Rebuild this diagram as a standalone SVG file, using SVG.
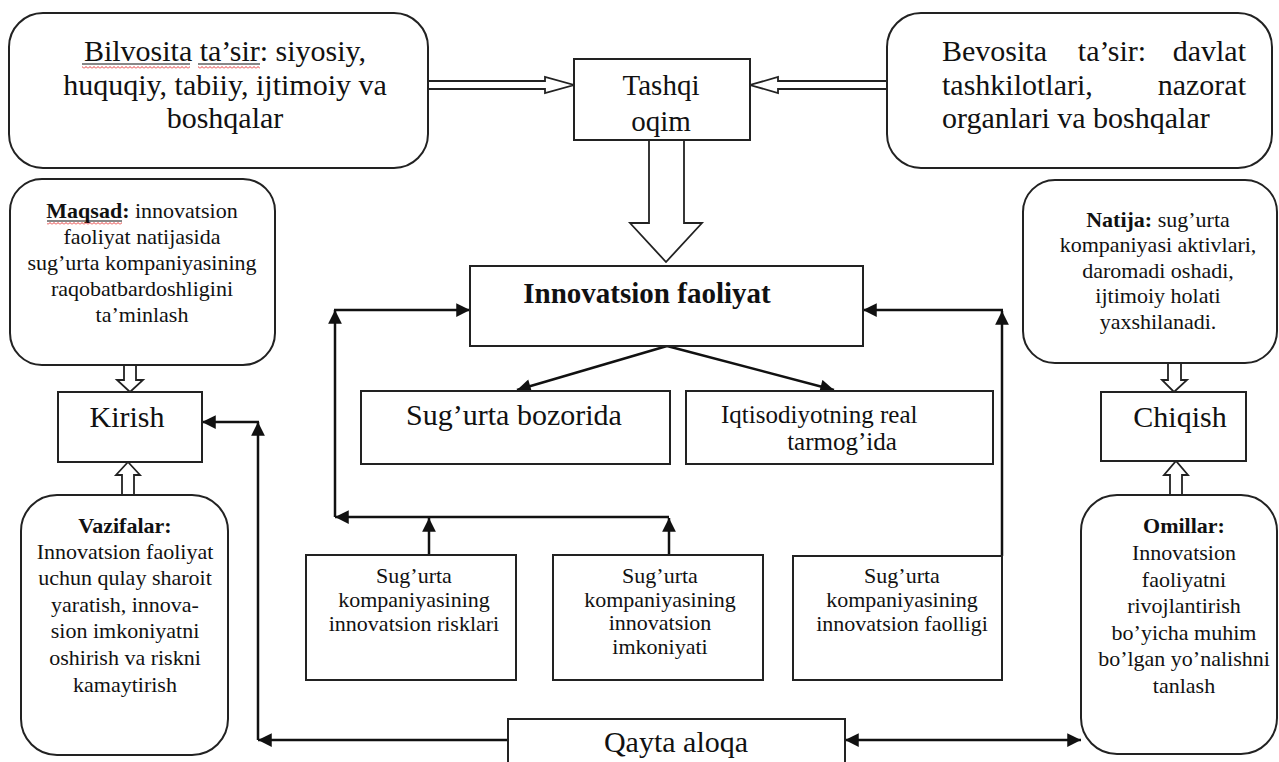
<svg xmlns="http://www.w3.org/2000/svg" width="1279" height="762" viewBox="0 0 1279 762">
<style>
  .box{fill:#fff;stroke:#222;stroke-width:2}
  .rbox{fill:#fff;stroke:#222;stroke-width:2}
  .t{font-family:"Liberation Serif","Times New Roman",serif;fill:#111}
  .big{font-size:30px}
  .sm{font-size:22px}
  .mid{text-anchor:middle}
  .b{font-weight:bold}
  .ln{fill:none;stroke:#111;stroke-width:2.5}
  .hol{fill:#fff;stroke:#222;stroke-width:1.8;stroke-linejoin:miter}
  .ul{stroke:#111;stroke-width:1.2}
</style>
<defs>
  <marker id="ah" viewBox="0 0 10 10" refX="10" refY="5" markerWidth="6" markerHeight="5.5" markerUnits="strokeWidth" orient="auto-start-reverse">
    <path d="M0 0 L10 5 L0 10 Z" fill="#111"/>
  </marker>
  <pattern id="wavy" patternUnits="userSpaceOnUse" width="4" height="3">
    <path d="M0 2.5 L2 0.5 L4 2.5" fill="none" stroke="#e02020" stroke-width="0.9"/>
  </pattern>
</defs>
<rect width="1279" height="762" fill="#fff"/>

<g id="connectors">
  <!-- hollow arrows -->
  <polygon class="hol" points="428,81 545,81 545,77 574,85 545,93 545,89 428,89"/>
  <polygon class="hol" points="887,81 778,81 778,77 750,85 778,93 778,89 887,89"/>
  <polygon class="hol" points="649,140 649,223 630,223 666,262 702,223 684,223 684,140"/>
  <polygon class="hol" points="124,365 124,380 117,380 130,392 143,380 136,380 136,365"/>
  <polygon class="hol" points="122,495 122,475 116,475 128,462 140,475 134,475 134,495"/>
  <polygon class="hol" points="1168,363 1168,380 1162,380 1174,392 1187,380 1181,380 1181,363"/>
  <polygon class="hol" points="1170,495 1170,475 1164,475 1176,461 1188,475 1182,475 1182,495"/>
  <!-- solid arrows -->
  <line class="ln" x1="667" y1="346" x2="517" y2="390" marker-end="url(#ah)"/>
  <line class="ln" x1="667" y1="346" x2="834" y2="390" marker-end="url(#ah)"/>
  <line class="ln" x1="429" y1="555" x2="429" y2="518" marker-end="url(#ah)"/>
  <line class="ln" x1="669" y1="555" x2="669" y2="518" marker-end="url(#ah)"/>
  <line class="ln" x1="669" y1="517" x2="335" y2="517" marker-end="url(#ah)"/>
  <line class="ln" x1="335" y1="517" x2="335" y2="310" marker-end="url(#ah)"/>
  <line class="ln" x1="334" y1="310" x2="470" y2="310" marker-end="url(#ah)"/>
  <line class="ln" x1="1002" y1="556" x2="1002" y2="311" marker-end="url(#ah)"/>
  <line class="ln" x1="1003" y1="310" x2="863" y2="310" marker-end="url(#ah)"/>
  <line class="ln" x1="508" y1="740" x2="258" y2="740" marker-end="url(#ah)"/>
  <line class="ln" x1="258" y1="740" x2="258" y2="422" marker-end="url(#ah)"/>
  <line class="ln" x1="259" y1="422" x2="202" y2="422" marker-end="url(#ah)"/>
  <line class="ln" x1="845" y1="740" x2="1081" y2="740" marker-start="url(#ah)" marker-end="url(#ah)"/>
</g>

<g id="bilvosita">
  <rect class="rbox" x="9" y="13" width="419" height="155" rx="34"/>
  <text class="t big mid" x="225" y="61">Bilvosita ta’sir: siyosiy,</text>
  <text class="t big mid" x="225" y="95">huquqiy, tabiiy, ijtimoiy va</text>
  <text class="t big mid" x="225" y="128">boshqalar</text>
  <line class="ul" x1="82" y1="64" x2="190" y2="64"/>
  <line class="ul" x1="198" y1="64" x2="260" y2="64"/>
  <rect x="82" y="66" width="108" height="3" fill="url(#wavy)"/>
  <rect x="198" y="66" width="62" height="3" fill="url(#wavy)"/>
</g>

<g id="tashqi">
  <rect class="box" x="574" y="59" width="176" height="81"/>
  <text class="t mid" style="font-size:29px" x="661" y="95">Tashqi</text>
  <text class="t mid" style="font-size:29px" x="661" y="131">oqim</text>
</g>

<g id="bevosita">
  <rect class="rbox" x="887" y="13" width="385" height="155" rx="34"/>
  <text class="t big" x="942" y="61">Bevosita</text>
  <text class="t big mid" x="1112" y="61">ta’sir:</text>
  <text class="t big" x="1246" y="61" text-anchor="end">davlat</text>
  <text class="t big" x="942" y="95">tashkilotlari,</text>
  <text class="t big" x="1246" y="95" text-anchor="end">nazorat</text>
  <text class="t big" x="942" y="128">organlari va boshqalar</text>
</g>

<g id="maqsad">
  <rect class="rbox" x="10" y="179" width="265" height="186" rx="32"/>
  <text class="t sm mid" x="142" y="218"><tspan class="b">Maqsad:</tspan> innovatsion</text>
  <text class="t sm mid" x="142" y="244">faoliyat natijasida</text>
  <text class="t sm mid" x="142" y="270">sug’urta kompaniyasining</text>
  <text class="t sm mid" x="142" y="296">raqobatbardoshligini</text>
  <text class="t sm mid" x="142" y="322">ta’minlash</text>
  <line class="ul" x1="47" y1="221" x2="122" y2="221"/>
  <rect x="47" y="222" width="75" height="3" fill="url(#wavy)"/>
</g>

<g id="natija">
  <rect class="rbox" x="1023" y="180" width="254" height="183" rx="32"/>
  <text class="t sm mid" x="1158" y="227"><tspan class="b">Natija:</tspan> sug’urta</text>
  <text class="t sm mid" x="1158" y="252">kompaniyasi aktivlari,</text>
  <text class="t sm mid" x="1158" y="278">daromadi oshadi,</text>
  <text class="t sm mid" x="1158" y="303">ijtimoiy holati</text>
  <text class="t sm mid" x="1158" y="329">yaxshilanadi.</text>
</g>

<g id="innovatsion">
  <rect class="box" x="470" y="266" width="393" height="80"/>
  <text class="t b mid" style="font-size:29px" x="647" y="303">Innovatsion faoliyat</text>
</g>

<g id="kirish">
  <rect class="box" x="58" y="392" width="144" height="70"/>
  <text class="t big mid" x="127" y="427">Kirish</text>
</g>

<g id="chiqish">
  <rect class="box" x="1101" y="392" width="145" height="69"/>
  <text class="t big mid" x="1180" y="427">Chiqish</text>
</g>

<g id="bozorida">
  <rect class="box" x="361" y="391" width="309" height="73"/>
  <text class="t big mid" x="514" y="425">Sug’urta bozorida</text>
</g>

<g id="iqtisodiyot">
  <rect class="box" x="686" y="391" width="307" height="73"/>
  <text class="t" style="font-size:25px" x="721" y="423">Iqtisodiyotning real</text>
  <text class="t mid" style="font-size:25px" x="842" y="450">tarmog’ida</text>
</g>

<g id="vazifalar">
  <rect class="rbox" x="21" y="495" width="207" height="260" rx="36"/>
  <text class="t sm mid b" x="125" y="533">Vazifalar:</text>
  <text class="t sm mid" x="125" y="559">Innovatsion faoliyat</text>
  <text class="t sm mid" x="125" y="585">uchun qulay sharoit</text>
  <text class="t sm mid" x="125" y="612">yaratish, innova-</text>
  <text class="t sm mid" x="125" y="638">sion imkoniyatni</text>
  <text class="t sm mid" x="125" y="665">oshirish va riskni</text>
  <text class="t sm mid" x="125" y="692">kamaytirish</text>
</g>

<g id="risklari">
  <rect class="box" x="306" y="555" width="210" height="125"/>
  <text class="t sm mid" x="414" y="583">Sug’urta</text>
  <text class="t sm mid" x="414" y="607">kompaniyasining</text>
  <text class="t sm mid" x="414" y="631">innovatsion risklari</text>
</g>

<g id="imkoniyati">
  <rect class="box" x="553" y="555" width="210" height="125"/>
  <text class="t sm mid" x="660" y="583">Sug’urta</text>
  <text class="t sm mid" x="660" y="607">kompaniyasining</text>
  <text class="t sm mid" x="660" y="630">innovatsion</text>
  <text class="t sm mid" x="660" y="654">imkoniyati</text>
</g>

<g id="faolligi">
  <rect class="box" x="793" y="556" width="209" height="124"/>
  <text class="t sm mid" x="902" y="583">Sug’urta</text>
  <text class="t sm mid" x="902" y="607">kompaniyasining</text>
  <text class="t sm mid" x="902" y="631">innovatsion faolligi</text>
</g>

<g id="omillar">
  <rect class="rbox" x="1081" y="495" width="196" height="259" rx="36"/>
  <text class="t sm mid b" x="1184" y="533">Omillar:</text>
  <text class="t sm mid" x="1184" y="560">Innovatsion</text>
  <text class="t sm mid" x="1184" y="587">faoliyatni</text>
  <text class="t sm mid" x="1184" y="613">rivojlantirish</text>
  <text class="t sm mid" x="1184" y="640">bo’yicha muhim</text>
  <text class="t sm mid" x="1184" y="666">bo’lgan yo’nalishni</text>
  <text class="t sm mid" x="1184" y="693">tanlash</text>
</g>

<g id="qayta">
  <rect class="box" x="508" y="719" width="337" height="60"/>
  <text class="t big mid" x="676" y="752">Qayta aloqa</text>
</g>
</svg>
